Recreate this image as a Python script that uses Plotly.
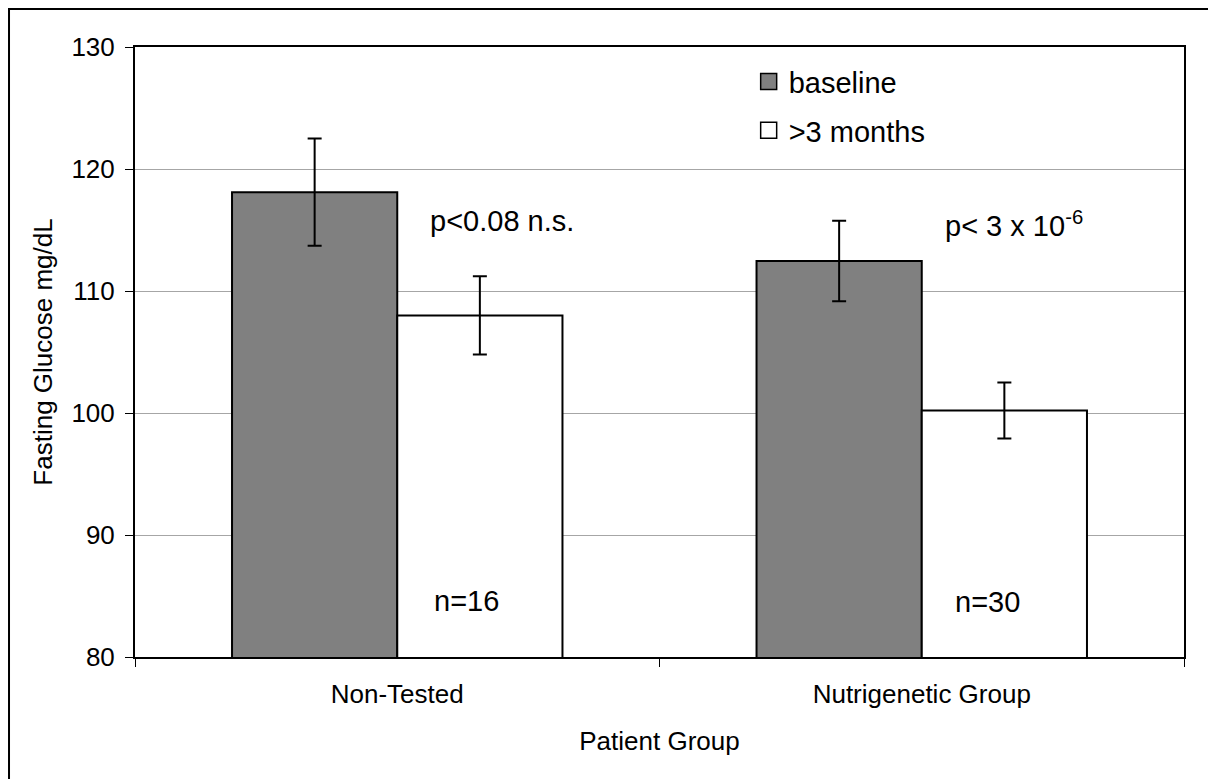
import plotly.graph_objects as go

categories = ["Non-Tested", "Nutrigenetic Group"]
baseline = [118.1, 112.45]
baseline_err = [4.4, 3.3]
after3 = [108.0, 100.2]
after3_err = [3.2, 2.3]
series_names = ["baseline", ">3 months"]
y_ticks = [80, 90, 100, 110, 120, 130]
p_labels = ["p<0.08 n.s.", "p< 3 x 10<sup>-6</sup>"]
n_labels = ["n=16", "n=30"]

FONT = "Liberation Sans, Arial, sans-serif"
GRAY = "#808080"

fig = go.Figure()
for vals, errs, color, name in [(baseline, baseline_err, GRAY, series_names[0]),
                                (after3, after3_err, "#FFFFFF", series_names[1])]:
    fig.add_trace(go.Bar(
        x=categories, y=vals, name=name, showlegend=False,
        marker=dict(color=color, line=dict(color="black", width=2)),
        error_y=dict(type="data", array=errs, visible=True, color="black",
                     thickness=2, width=7),
    ))

# legend proxies
for color, name, grp in [(GRAY, series_names[0], "a"), ("#FFFFFF", series_names[1], "b")]:
    fig.add_trace(go.Scatter(
        x=[None], y=[None], mode="markers", name=name, legendgroup=grp,
        marker=dict(symbol="square", size=18, color=color,
                    line=dict(color="black", width=1.5)),
    ))

# annotations
p_x = [0.20, 1.175]
p_y = [115.7, 115.5]
n_x = [0.132, 1.126]
n_y = [84.6, 84.5]
for i in range(2):
    fig.add_annotation(x=p_x[i], y=p_y[i], xref="x", yref="y", text=p_labels[i],
                       showarrow=False, font=dict(size=29, color="black", family=FONT))
    fig.add_annotation(x=n_x[i], y=n_y[i], xref="x", yref="y", text=n_labels[i],
                       showarrow=False, font=dict(size=29, color="black", family=FONT))

# outer border (extends past bottom/right edge)
fig.add_shape(type="rect", xref="paper", yref="paper",
              x0=-0.1201, y0=-0.4, x1=1.2, y1=1.0623,
              line=dict(color="black", width=2), fillcolor="rgba(0,0,0,0)", layer="below")

fig.update_layout(
    width=1208, height=771,
    margin=dict(l=127, r=32, t=39, b=122),
    paper_bgcolor="white", plot_bgcolor="white",
    font=dict(family=FONT, color="black", size=26),
    barmode="group", bargap=0.37, bargroupgap=0,
    legend=dict(x=0.585, y=0.985, xanchor="left", yanchor="top",
                font=dict(size=29, family=FONT), bgcolor="rgba(0,0,0,0)",
                tracegroupgap=8, traceorder="grouped", itemwidth=30),
    xaxis=dict(
        title=dict(text="Patient Group", font=dict(size=26), standoff=24),
        showline=True, linecolor="black", linewidth=2, mirror=True,
        ticks="outside", tickson="boundaries", ticklen=8, tickcolor="black", tickwidth=1,
        ticklabelstandoff=13, tickfont=dict(size=26),
        showgrid=False, range=[-0.5, 1.5],
    ),
    yaxis=dict(
        title=dict(text="Fasting Glucose mg/dL", font=dict(size=26), standoff=11),
        range=[80, 130], tickvals=y_ticks,
        showline=True, linecolor="black", linewidth=2, mirror=True,
        ticks="outside", ticklen=8, tickcolor="black", tickwidth=1,
        ticklabelstandoff=5, tickfont=dict(size=26),
        showgrid=True, gridcolor="#A6A6A6", gridwidth=1, zeroline=False,
    ),
)

fig.write_html("out.html")
